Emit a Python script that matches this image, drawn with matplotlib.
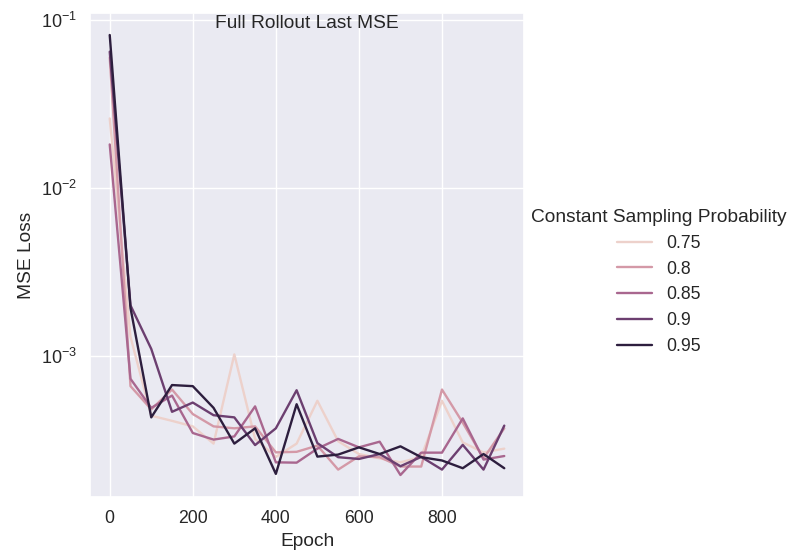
import numpy as np
import pandas as pd
import matplotlib
matplotlib.use('Agg')
import matplotlib.pyplot as plt
import seaborn as sns

# Epochs and per-probability MSE values
epochs = list(range(0, 1000, 50))
probs = [0.75, 0.8, 0.85, 0.9, 0.95]

mse_075 = [0.026, 0.0013, 0.00044, 0.00041, 0.00038, 0.0003, 0.00102, 0.00032, 0.00025, 0.0003,
           0.00054, 0.00031, 0.00026, 0.000245, 0.000232, 0.00025, 0.00054, 0.000305, 0.000266, 0.00028]
mse_080 = [0.06, 0.00066, 0.00048, 0.00063, 0.00045, 0.00038, 0.00037, 0.00038, 0.000266, 0.000268,
           0.000292, 0.00021, 0.000252, 0.000249, 0.000219, 0.000219, 0.00063, 0.0004, 0.000245, 0.00037]
mse_085 = [0.0182, 0.00073, 0.00049, 0.00058, 0.000347, 0.000317, 0.000331, 0.0005, 0.000232, 0.000231,
           0.00028, 0.00032, 0.000285, 0.000308, 0.000195, 0.000265, 0.000265, 0.000424, 0.000241, 0.000253]
mse_090 = [0.065, 0.002, 0.0011, 0.000464, 0.000527, 0.000443, 0.00043, 0.000294, 0.00037, 0.000624,
           0.000302, 0.000249, 0.000243, 0.00026, 0.00022, 0.00025, 0.00021, 0.000295, 0.00021, 0.000384]
mse_095 = [0.0817, 0.00193, 0.00043, 0.00067, 0.00066, 0.00049, 0.0003, 0.00037, 0.000198, 0.000515,
           0.000251, 0.000258, 0.000285, 0.00026, 0.000289, 0.000249, 0.000238, 0.000214, 0.00026, 0.000214]

series = [mse_075, mse_080, mse_085, mse_090, mse_095]
df = pd.DataFrame({
    'Epoch': epochs * len(probs),
    'MSE Loss': np.concatenate(series),
    'Constant Sampling Probability': np.repeat(probs, len(epochs)),
})

sns.set_theme(style='darkgrid')
plt.rcParams['font.family'] = ['Liberation Sans', 'DejaVu Sans']
plt.rcParams['xtick.labelsize'] = 12.7
plt.rcParams['ytick.labelsize'] = 13
plt.rcParams['axes.labelsize'] = 13.8

fig = plt.figure(figsize=(7.92, 5.57), dpi=100)
ax = fig.add_axes([90 / 792, 60 / 557, 434 / 792, 484 / 557])
sns.lineplot(data=df, x='Epoch', y='MSE Loss', hue='Constant Sampling Probability',
             ax=ax, linewidth=1.7, legend='full')
ax.set_yscale('log')

handles, labels = ax.get_legend_handles_labels()
ax.get_legend().remove()
leg = fig.legend(handles, labels, title='Constant Sampling Probability',
                 loc='center left', bbox_to_anchor=(515 / 792, 1 - 282 / 557),
                 frameon=False, fontsize=12.7, title_fontsize=13.8)

fig.text(306.5 / 792, 1 - 28.5 / 557, 'Full Rollout Last MSE', ha='center', va='baseline',
         fontsize=13.8, color='#262626')

fig.savefig('out.png', dpi=100)
